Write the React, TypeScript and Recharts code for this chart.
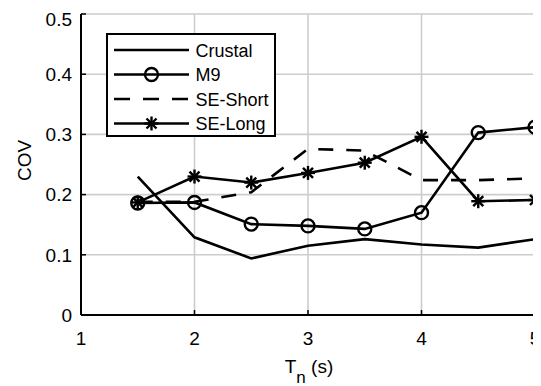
import React from "react";
import { LineChart, Line, XAxis, YAxis, CartesianGrid, Legend } from "recharts";

const periods = [1.5, 2, 2.5, 3, 3.5, 4, 4.5, 5];
const crustal = [0.23, 0.129, 0.094, 0.115, 0.126, 0.117, 0.112, 0.126];
const m9 = [0.186, 0.187, 0.151, 0.148, 0.143, 0.17, 0.303, 0.312];
const seShort = [0.188, 0.188, 0.204, 0.276, 0.273, 0.224, 0.224, 0.227];
const seLong = [0.187, 0.23, 0.22, 0.236, 0.253, 0.296, 0.189, 0.191];
const xTicks = [1, 2, 3, 4, 5];
const yTicks = [0, 0.1, 0.2, 0.3, 0.4, 0.5];
const seriesNames = ["Crustal", "M9", "SE-Short", "SE-Long"];

const data = periods.map((t, i) => ({
  t,
  crustal: crustal[i],
  m9: m9[i],
  seShort: seShort[i],
  seLong: seLong[i],
}));

const FONT = "'Liberation Sans', Arial, Helvetica, sans-serif";
const DASH = "15 13";
const LW = 2.6;

const Circle = ({ cx, cy }: { cx: number; cy: number }) => (
  <circle cx={cx} cy={cy} r={6.5} fill="none" stroke="#000" strokeWidth={2.4} />
);

const Star = ({ cx, cy }: { cx: number; cy: number }) => {
  const a = 7;
  const d = 5;
  return (
    <g stroke="#000" strokeWidth={2.4}>
      <line x1={cx - a} y1={cy} x2={cx + a} y2={cy} />
      <line x1={cx} y1={cy - a} x2={cx} y2={cy + a} />
      <line x1={cx - d} y1={cy - d} x2={cx + d} y2={cy + d} />
      <line x1={cx - d} y1={cy + d} x2={cx + d} y2={cy - d} />
    </g>
  );
};

const circleDot = (p: any) => <Circle key={`c-${p.index}`} cx={p.cx} cy={p.cy} />;
const starDot = (p: any) => <Star key={`s-${p.index}`} cx={p.cx} cy={p.cy} />;

const LegendBox = () => {
  const rows = [17, 41.5, 66, 90.5];
  return (
    <svg width={170} height={104} style={{ display: "block" }}>
      <rect x={1} y={1} width={168} height={102} fill="#fff" stroke="#000" strokeWidth={2} />
      {seriesNames.map((name, i) => {
        const y = rows[i];
        return (
          <g key={name}>
            <line
              x1={8}
              y1={y}
              x2={83}
              y2={y}
              stroke="#000"
              strokeWidth={LW}
              strokeDasharray={i === 2 ? "16 13" : undefined}
            />
            {i === 1 && <Circle cx={45.5} cy={y} />}
            {i === 3 && <Star cx={45.5} cy={y} />}
            <text x={89.5} y={y + 6.5} fontSize={18} fontFamily={FONT} fill="#000">
              {name}
            </text>
          </g>
        );
      })}
    </svg>
  );
};

const XLabel = (props: any) => {
  const vb = props.viewBox || { x: 73, y: 307, width: 454, height: 71 };
  const cx = vb.x + vb.width / 2 + 1;
  return (
    <text x={cx} y={vb.y + 58} textAnchor="middle" fontSize={19} fontFamily={FONT} fill="#000">
      <tspan>T</tspan>
      <tspan dy={10} fontSize={17}>n</tspan>
      <tspan dy={-10}> (s)</tspan>
    </text>
  );
};

const YLabel = (props: any) => {
  const vb = props.viewBox || { x: 0, y: 6, width: 73, height: 301 };
  const x = vb.x + 16.5;
  const y = vb.y + vb.height / 2 - 4;
  return (
    <text
      x={x}
      y={y}
      transform={`rotate(-90 ${x} ${y})`}
      textAnchor="middle"
      dominantBaseline="central"
      fontSize={19}
      fontFamily={FONT}
      fill="#000"
    >
      COV
    </text>
  );
};

const axisLine = { stroke: "#000", strokeWidth: 2 };
const tickLine = { stroke: "#000", strokeWidth: 1.5 };
const tickStyle = { fill: "#000", fontSize: 19, fontFamily: FONT };

export default function App() {
  return (
    <div style={{ width: 533, height: 378, position: "relative" }}>
      <LineChart width={533} height={378} data={data} margin={{ top: 6, right: 6, left: 0, bottom: 0 }}>
        <CartesianGrid stroke="#cdcdcd" strokeWidth={1.6} />
        <XAxis
          dataKey="t"
          type="number"
          domain={[1, 5]}
          ticks={xTicks}
          allowDataOverflow
          height={71}
          tickSize={-5}
          tickMargin={22}
          axisLine={axisLine}
          tickLine={tickLine}
          tick={tickStyle}
          label={<XLabel />}
        />
        <XAxis
          xAxisId="top"
          orientation="top"
          dataKey="t"
          type="number"
          domain={[1, 5]}
          ticks={xTicks}
          allowDataOverflow
          height={0}
          tickSize={-5}
          axisLine={axisLine}
          tickLine={tickLine}
          tick={false}
        />
        <YAxis
          type="number"
          domain={[0, 0.5]}
          ticks={yTicks}
          allowDataOverflow
          width={73}
          tickSize={-5}
          tickMargin={14}
          axisLine={axisLine}
          tickLine={tickLine}
          tick={tickStyle}
          tickFormatter={(v: number) => String(v)}
          label={<YLabel />}
        />
        <YAxis
          yAxisId="right"
          orientation="right"
          type="number"
          domain={[0, 0.5]}
          ticks={yTicks}
          allowDataOverflow
          width={0}
          tickSize={-5}
          axisLine={axisLine}
          tickLine={tickLine}
          tick={false}
        />
        <Line dataKey="crustal" name="Crustal" type="linear" stroke="#000" strokeWidth={LW} dot={false} activeDot={false} isAnimationActive={false} />
        <Line dataKey="m9" name="M9" type="linear" stroke="#000" strokeWidth={LW} dot={circleDot} activeDot={false} isAnimationActive={false} />
        <Line dataKey="seShort" name="SE-Short" type="linear" stroke="#000" strokeWidth={LW} strokeDasharray={DASH} dot={false} activeDot={false} isAnimationActive={false} />
        <Line dataKey="seLong" name="SE-Long" type="linear" stroke="#000" strokeWidth={LW} dot={starDot} activeDot={false} isAnimationActive={false} />
        <Legend
          layout="vertical"
          align="center"
          verticalAlign="middle"
          content={() => <LegendBox />}
          wrapperStyle={{ left: 98, top: 25, width: 170, height: 104 }}
        />
      </LineChart>
    </div>
  );
}
